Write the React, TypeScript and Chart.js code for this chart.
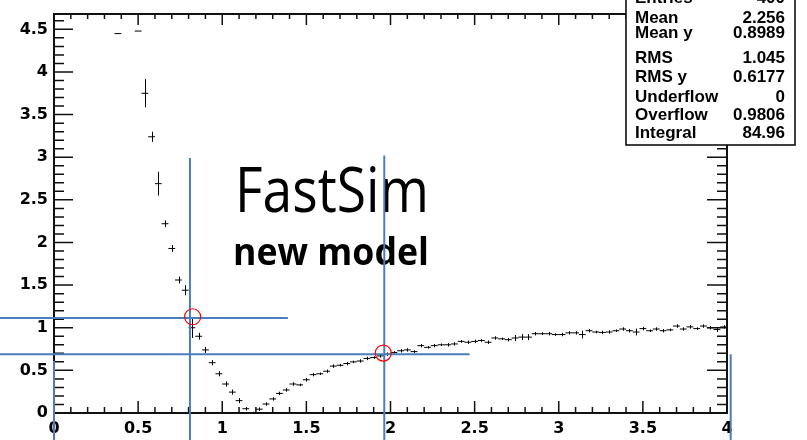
import React, { useEffect, useRef } from "react";
import { Chart, registerables } from "chart.js";

Chart.register(...registerables);

// Profile bins (bin width 0.04): bin centres, mean y and error on the mean
const binCenters = [
  0.38, 0.5, 0.54, 0.58, 0.62, 0.66, 0.7, 0.74, 0.78, 0.82, 0.86, 0.9, 0.94, 0.98,
  1.02, 1.06, 1.1, 1.14, 1.18, 1.22, 1.26, 1.3, 1.34, 1.38, 1.42, 1.46, 1.5, 1.54,
  1.58, 1.62, 1.66, 1.7, 1.74, 1.78, 1.82, 1.86, 1.9, 1.94, 1.98, 2.02, 2.06, 2.1,
  2.14, 2.18, 2.22, 2.26, 2.3, 2.34, 2.38, 2.42, 2.46, 2.5, 2.54, 2.58, 2.62, 2.66,
  2.7, 2.74, 2.78, 2.82, 2.86, 2.9, 2.94, 2.98, 3.02, 3.06, 3.1, 3.14, 3.18, 3.22,
  3.26, 3.3, 3.34, 3.38, 3.42, 3.46, 3.5, 3.54, 3.58, 3.62, 3.66, 3.7, 3.74, 3.78,
  3.82, 3.86, 3.9, 3.94, 3.98,
];

const meanY = [
  4.45, 4.48, 3.75, 3.24, 2.69, 2.22, 1.93, 1.56, 1.44, 1.0, 0.9, 0.74, 0.59, 0.46,
  0.34, 0.245, 0.145, 0.05, 0.005, 0.045, 0.105, 0.165, 0.23, 0.27, 0.34, 0.33, 0.39, 0.45,
  0.46, 0.49, 0.55, 0.56, 0.58, 0.6, 0.61, 0.64, 0.65, 0.67, 0.69, 0.71, 0.73, 0.74,
  0.72, 0.79, 0.77, 0.79, 0.8, 0.8, 0.81, 0.84, 0.83, 0.84, 0.85, 0.83, 0.88, 0.87,
  0.86, 0.88, 0.89, 0.89, 0.93, 0.93, 0.93, 0.92, 0.92, 0.94, 0.94, 0.92, 0.965, 0.95,
  0.945, 0.95, 0.965, 0.985, 0.965, 0.95, 0.99, 0.965, 0.985, 0.965, 0.975, 1.02, 0.985, 1.01,
  0.99, 1.02, 1.0, 0.98, 1.01,
];

const errY = [
  0, 0, 0.165, 0.06, 0.14, 0.04, 0.04, 0.04, 0.06, 0.12, 0.04, 0.035, 0.03, 0.03,
  0.03, 0.03, 0.03, 0.02, 0.01, 0.02, 0.02, 0.02, 0.02, 0.02, 0.02, 0.015, 0.02, 0.02,
  0.015, 0.02, 0.02, 0.015, 0.02, 0.015, 0.02, 0.02, 0.015, 0.02, 0.02, 0.015, 0.02, 0.02,
  0.015, 0.02, 0.015, 0.02, 0.015, 0.02, 0.02, 0.015, 0.02, 0.02, 0.015, 0.02, 0.02, 0.015,
  0.02, 0.035, 0.035, 0.035, 0.02, 0.015, 0.02, 0.015, 0.02, 0.02, 0.02, 0.045, 0.02, 0.015,
  0.02, 0.02, 0.015, 0.02, 0.02, 0.04, 0.02, 0.015, 0.02, 0.02, 0.015, 0.02, 0.02, 0.02,
  0.015, 0.02, 0.02, 0.03, 0.02,
];

// Statistics panel
const statLabels = ["Entries", "Mean", "Mean y", "RMS", "RMS y", "Underflow", "Overflow", "Integral"];
const statValues = ["400", "2.256", "0.8989", "1.045", "0.6177", "0", "0.9806", "84.96"];

// Axis ranges
const xRange = [0, 4];
const yRange = [0, 4.68];

// Highlighted crossing points and guide lines (data coordinates)
const markerPoints = [
  [0.824, 1.129],
  [1.957, 0.703],
];
const guideVertical = [
  // x, top y
  [0.808, 2.99],
  [1.963, 3.02],
  [4.022, 0.69],
  [0, 0.61],
];
const guideHorizontal = [
  // y, right x
  [1.114, 1.39],
  [0.69, 2.47],
];

const fmtTick = (v: number) => String(Number(Number(v).toFixed(2)));

const rootStylePlugin = {
  id: "rootStyle",
  beforeDraw(chart: any) {
    const ctx = chart.ctx;
    ctx.save();
    ctx.fillStyle = "#ffffff";
    ctx.fillRect(0, 0, chart.width, chart.height);
    ctx.restore();
  },
  afterDatasetsDraw(chart: any) {
    const ctx = chart.ctx;
    const ys = chart.scales.y;
    const meta = chart.getDatasetMeta(0);
    ctx.save();
    ctx.strokeStyle = "#000";
    ctx.lineWidth = 1;
    meta.data.forEach((pt: any, i: number) => {
      const e = errY[i];
      if (!e) return;
      const x = Math.round(pt.x) + 0.5;
      const y1 = ys.getPixelForValue(meanY[i] + e);
      const y2 = ys.getPixelForValue(meanY[i] - e);
      ctx.beginPath();
      ctx.moveTo(x, y1);
      ctx.lineTo(x, y2);
      ctx.stroke();
    });
    ctx.restore();
  },
  afterDraw(chart: any) {
    const ctx = chart.ctx;
    const { left, right, top, bottom } = chart.chartArea;
    const xs = chart.scales.x;
    const ys = chart.scales.y;
    ctx.save();

    // frame
    ctx.strokeStyle = "#111";
    ctx.lineWidth = 2;
    ctx.strokeRect(left, top, right - left, bottom - top);

    // ticks (major every 0.5, minor every 0.1), pointing inwards
    ctx.lineWidth = 1.5;
    ctx.beginPath();
    for (let k = 0; k <= 40; k++) {
      const px = xs.getPixelForValue(k / 10);
      const major = k % 5 === 0;
      ctx.moveTo(px, bottom);
      ctx.lineTo(px, bottom - (major ? 12 : 6));
      ctx.moveTo(px, top);
      ctx.lineTo(px, top + (major ? 11 : 5));
    }
    for (let k = 0; k <= 46; k++) {
      const py = ys.getPixelForValue(k / 10);
      const major = k % 5 === 0;
      ctx.moveTo(left, py);
      ctx.lineTo(left + (major ? 19 : 10), py);
      ctx.moveTo(right, py);
      ctx.lineTo(right - (major ? 20 : 10), py);
    }
    ctx.stroke();

    // statistics panel
    const bx = 626, bw = 169, bBottom = 145;
    ctx.fillStyle = "#fff";
    ctx.fillRect(bx, -5, bw, bBottom + 5);
    ctx.strokeStyle = "#000";
    ctx.lineWidth = 1.5;
    ctx.strokeRect(bx, -5, bw, bBottom + 5);
    const baselines = [3, 23, 38, 63, 82, 102, 120, 138];
    ctx.fillStyle = "#000";
    ctx.font = "bold 17px 'Liberation Sans', Arial, sans-serif";
    ctx.textBaseline = "alphabetic";
    statLabels.forEach((lab, i) => {
      ctx.textAlign = "left";
      ctx.fillText(lab, bx + 9, baselines[i]);
      ctx.textAlign = "right";
      ctx.fillText(statValues[i], bx + bw - 10, baselines[i]);
    });

    // titles
    ctx.textAlign = "left";
    ctx.font = "62px 'Open Sans', sans-serif";
    ctx.fillText("FastSim", 235, 212, 194);
    ctx.font = "bold 38px 'Open Sans', sans-serif";
    ctx.fillText("new model", 233, 265, 196);

    // guide lines
    ctx.strokeStyle = "#4a7ebb";
    ctx.lineWidth = 2;
    ctx.beginPath();
    guideVertical.forEach(([gx, gy]) => {
      const px = xs.getPixelForValue(gx);
      ctx.moveTo(px, ys.getPixelForValue(gy));
      ctx.lineTo(px, chart.height);
    });
    guideHorizontal.forEach(([gy, gx]) => {
      const py = ys.getPixelForValue(gy);
      ctx.moveTo(0, py);
      ctx.lineTo(xs.getPixelForValue(gx), py);
    });
    ctx.stroke();

    // circled crossings
    ctx.strokeStyle = "#ff0000";
    ctx.lineWidth = 1.2;
    markerPoints.forEach(([mx, my]) => {
      ctx.beginPath();
      ctx.arc(xs.getPixelForValue(mx), ys.getPixelForValue(my), 8, 0, Math.PI * 2);
      ctx.stroke();
    });

    ctx.restore();
  },
};

export default function App() {
  const canvasRef = useRef<HTMLCanvasElement | null>(null);

  useEffect(() => {
    if (!canvasRef.current) return;
    const tickFont = { family: "'DejaVu Sans', sans-serif", size: 16, weight: "bold" as const };
    const chart = new Chart(canvasRef.current, {
      type: "scatter",
      data: {
        datasets: [
          {
            data: binCenters.map((x, i) => ({ x, y: meanY[i] })),
            pointStyle: "line",
            pointRadius: 3.4,
            pointBorderWidth: 1,
            borderColor: "#000",
            backgroundColor: "#000",
            showLine: false,
          },
        ],
      },
      plugins: [rootStylePlugin],
      options: {
        animation: false,
        responsive: false,
        devicePixelRatio: 1,
        layout: { padding: { top: 14, right: 80, left: 0, bottom: 0 } },
        plugins: { legend: { display: false }, tooltip: { enabled: false } },
        events: [],
        scales: {
          x: {
            type: "linear",
            min: xRange[0],
            max: xRange[1],
            grid: { display: false, drawTicks: false },
            border: { display: false },
            ticks: {
              stepSize: 0.5,
              includeBounds: false,
              autoSkip: false,
              maxRotation: 0,
              padding: 6,
              color: "#000",
              font: tickFont,
              callback: (v: any) => fmtTick(v),
            },
            afterFit: (s: any) => {
              s.height = 27;
              s.paddingLeft = 0;
              s.paddingRight = 0;
            },
          },
          y: {
            type: "linear",
            min: yRange[0],
            max: yRange[1],
            grid: { display: false, drawTicks: false },
            border: { display: false },
            ticks: {
              stepSize: 0.5,
              includeBounds: false,
              padding: 6,
              color: "#000",
              font: tickFont,
              callback: (v: any) => fmtTick(v),
            },
            afterFit: (s: any) => {
              s.width = 54;
              s.paddingTop = 0;
              s.paddingBottom = 0;
            },
          },
        },
      } as any,
    });
    return () => chart.destroy();
  }, []);

  return (
    <div style={{ position: "absolute", left: 0, top: 0, width: 807, height: 440, background: "#fff" }}>
      <canvas ref={canvasRef} width={807} height={440} style={{ display: "block" }} />
    </div>
  );
}
